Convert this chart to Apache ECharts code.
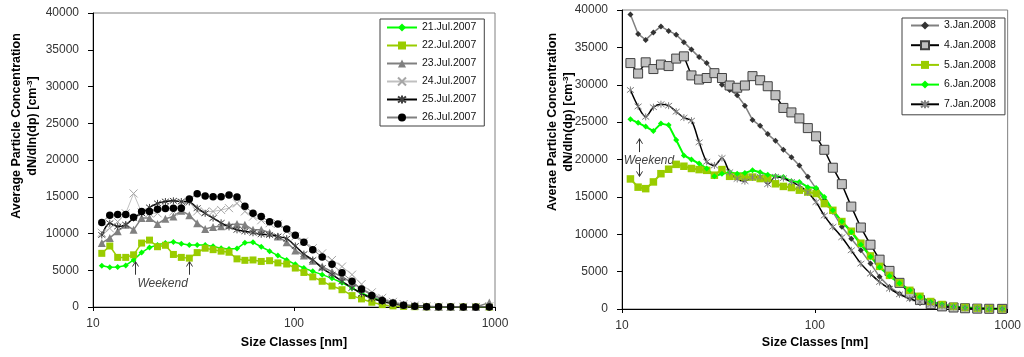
<!DOCTYPE html>
<html><head><meta charset="utf-8">
<script src="https://cdn.jsdelivr.net/npm/echarts@6/dist/echarts.min.js"></script>
<style>html,body{margin:0;padding:0;background:#fff}#c{width:1024px;height:357px}</style>
</head><body><div id="c"></div>
<script>
// Size classes [nm] (shared by both panels)
const sizes = [11.06, 12.12, 13.27, 14.55, 15.92, 17.45, 19.10, 20.94, 22.92, 25.12,
  27.50, 30.14, 32.99, 36.15, 39.58, 43.39, 47.50, 52.05, 56.98, 62.52,
  68.70, 75.61, 83.15, 91.98, 101.5, 112.0, 124.0, 138.1, 154.6, 173.3,
  194.4, 216.7, 243.9, 274.8, 310.8, 351.0, 399.0, 456.7, 524.1, 601.3,
  695.6, 802.7, 936.8];
const yTicksMax = 40000, yTickStep = 5000;
const xMin = 10, xMax = 1000;

// Left panel: July 2007
const julNames = ['21.Jul.2007', '22.Jul.2007', '23.Jul.2007', '24.Jul.2007', '25.Jul.2007', '26.Jul.2007'];
const jul21 = [5600, 5400, 5450, 5650, 6400, 7400, 8100, 8450, 8700, 8850,
  8600, 8450, 8450, 8450, 8250, 8000, 7900, 7950, 8750, 8800,
  8200, 7600, 7000, 6400, 5800, 5300, 4850, 4400, 3900, 3300,
  2600, 1900, 1300, 850, 500, 280, 150, 80, 40, 20, 10, 5, 0];
const jul22 = [7300, 8300, 6750, 6750, 7100, 8700, 9100, 8200, 8400, 7150,
  6750, 6650, 7400, 8000, 7800, 7600, 7450, 6550, 6350, 6400,
  6200, 6300, 6000, 5850, 5300, 4700, 4100, 3500, 2850, 2350,
  1550, 1100, 650, 320, 150, 80, 40, 20, 10, 5, 0, 0, 0];
const jul23 = [8700, 9400, 10300, 11200, 10500, 12100, 12100, 11300, 12000, 12300,
  13100, 12500, 11400, 10600, 10900, 11000, 11200, 11300, 11200, 10500,
  10500, 10100, 9600, 8800, 7700, 7000, 6300, 5500, 4800, 4100,
  3300, 2500, 1700, 1100, 650, 350, 200, 100, 50, 30, 20, 10, 600];
const jul24 = [10100, 10700, 11600, 12750, 15450, 12850, 12750, 12750, 13650, 13000,
  14100, 14300, 13000, 12950, 13000, 13200, 13450, 14100, 13000, 12300,
  11800, 11400, 11300, 10300, 9600, 8900, 8000, 7300, 6400, 5500,
  4400, 3100, 2000, 1250, 700, 400, 200, 100, 60, 40, 20, 10, 100];
const jul25 = [9800, 11400, 10950, 11200, 12100, 12750, 13550, 14100, 14350, 14450,
  14350, 14300, 13450, 12750, 12100, 11450, 10900, 10500, 10300, 10100,
  9900, 9800, 9600, 9300, 8300, 7200, 6400, 5300, 4400, 3500,
  2600, 1800, 1200, 750, 450, 250, 120, 60, 30, 15, 10, 5, 5];
const jul26 = [11500, 12500, 12600, 12600, 12200, 13000, 13000, 13300, 13400, 13450,
  13450, 14700, 15400, 15100, 15000, 15000, 15250, 14950, 13700, 12750,
  12300, 11600, 11300, 10600, 9750, 8800, 7800, 6800, 5800, 4650,
  3500, 2450, 1550, 900, 550, 250, 100, 50, 30, 20, 10, 10, 10];

// Right panel: January 2008
const janNames = ['3.Jan.2008', '4.Jan.2008', '5.Jan.2008', '6.Jan.2008', '7.Jan.2008'];
const jan3 = [39400, 36800, 36000, 37000, 37800, 37200, 36700, 35700, 34700, 33700,
  32900, 31500, 30000, 29300, 28600, 27200, 25300, 24500, 23400, 22500,
  21300, 20300, 19200, 17700, 16100, 14500, 13000, 11000, 9400, 7850,
  6100, 4300, 2950, 2050, 1400, 800, 500, 270, 150, 80, 40, 20, 10];
const jan4 = [32900, 31500, 33000, 32100, 32700, 32500, 33500, 33800, 31250, 30700,
  30900, 31550, 30900, 29900, 29600, 29900, 31150, 30600, 29800, 28600,
  26900, 26300, 25500, 24200, 23100, 21300, 18900, 16700, 13700, 10900,
  8600, 6600, 5100, 3500, 2100, 1200, 650, 350, 200, 100, 50, 30, 20];
const jan5 = [17400, 16300, 16100, 17000, 18100, 18700, 19350, 19100, 18800, 18650,
  18550, 17900, 18650, 17750, 17750, 17650, 17650, 17450, 17450, 16750,
  16400, 16250, 15900, 15650, 15450, 14100, 13200, 11700, 10400, 8800,
  7100, 5700, 4500, 3500, 2500, 1700, 1000, 600, 350, 200, 120, 60, 30];
const jan6 = [25400, 24900, 24400, 23800, 24800, 24600, 22600, 20550, 20000, 19450,
  18800, 17750, 18100, 18300, 18100, 18200, 18550, 18300, 17950, 17750,
  17650, 17100, 17000, 16300, 16200, 15000, 13200, 11700, 10300, 8600,
  7000, 5600, 4400, 3450, 2500, 1600, 950, 600, 350, 200, 100, 50, 30];
const jan7 = [29300, 27100, 25700, 27000, 27400, 27200, 26400, 25600, 25200, 22300,
  19700, 19200, 20200, 18300, 17400, 17100, 17600, 17700, 16700, 17700,
  17500, 17000, 16500, 15600, 14300, 12500, 11000, 9600, 7850, 6070,
  4730, 3610, 2720, 1960, 1390, 940, 630, 400, 270, 150, 80, 40, 20];

// Annotation anchors (data coordinates)
const leftArrowsX = [16.2, 29.9];
const leftArrowY = [4390, 6190];
const leftWeekend = [22.2, 3160];
const rightArrowX = 12.3;
const rightUpY = [20990, 22780];
const rightDownY = [19440, 17740];
const rightWeekend = [13.8, 19880];

const FONT = '"Liberation Sans", Arial, sans-serif';
const pts = arr => sizes.map((s, i) => [s, arr[i]]);
const XSYM = 'path://M0,0L10,10M10,0L0,10';
const AST = 'path://M0,0L10,10M10,0L0,10M5,-1.5L5,11.5';

function ser(name, idx, arr, o) {
  return {
    name, type: 'line', xAxisIndex: idx, yAxisIndex: idx, data: pts(arr),
    symbol: o.symbol, symbolSize: o.size, showSymbol: true, smooth: o.smooth || false,
    lineStyle: { color: o.line, width: o.lw || 1.5 },
    itemStyle: { color: o.fill, borderColor: o.border || o.fill, borderWidth: o.bw || 0 },
    emphasis: { disabled: true }, z: o.z || 2
  };
}

const chart = echarts.init(document.getElementById('c'));
function xAxis(gi) {
  return {
    type: 'log', logBase: 10, min: xMin, max: xMax, gridIndex: gi,
    axisLine: { lineStyle: { color: '#000', width: 1 } },
    axisTick: { show: true, inside: false, length: 4, lineStyle: { color: '#000' } },
    axisLabel: { color: '#333', fontSize: 12, fontFamily: FONT, margin: 11,
      formatter: v => String(Math.round(v)) },
    splitLine: { show: false }, minorTick: { show: false }
  };
}
function yAxis(gi) {
  return {
    type: 'value', min: 0, max: yTicksMax, interval: yTickStep, gridIndex: gi,
    axisLine: { show: true, lineStyle: { color: '#000', width: 1 } },
    axisTick: { show: true, inside: false, length: 5, lineStyle: { color: '#000' } },
    axisLabel: { color: '#333', fontSize: 12, fontFamily: FONT, margin: 14, formatter: v => String(v) },
    splitLine: { show: false }
  };
}
function legend(names, left, top, pad, gap, iw) {
  return {
    data: names, orient: 'vertical', left, top, padding: pad, itemGap: gap,
    itemWidth: iw, itemHeight: 10, selectedMode: false,
    borderColor: '#404040', borderWidth: 1, backgroundColor: '#fff',
    textStyle: { fontSize: 10.5, fontFamily: FONT, color: '#111' }
  };
}

const titleStyle = { fontFamily: FONT, fontWeight: 'bold', fontSize: 12.5, fill: '#000' };
function yTitle(x1, x2, cy, line1) {
  return [
    { type: 'text', x: x1, y: cy, rotation: Math.PI / 2,
      style: Object.assign({ text: line1, textAlign: 'center', textVerticalAlign: 'middle' }, titleStyle) },
    { type: 'text', x: x2, y: cy, rotation: Math.PI / 2,
      style: { text: '{a|dN/dln(dp) [cm}{s|-3}{a|]}', textAlign: 'center', textVerticalAlign: 'middle',
        rich: { a: { fontFamily: FONT, fontWeight: 'bold', fontSize: 12.5, color: '#000', lineHeight: 15 },
                s: { fontFamily: FONT, fontWeight: 'bold', fontSize: 8, color: '#000', verticalAlign: 'top' } } } }
  ];
}

chart.setOption({
  animation: false,
  backgroundColor: '#fff',
  grid: [
    { left: 93, right: 529, top: 13, bottom: 50, show: true, borderColor: '#808080', borderWidth: 1, backgroundColor: 'transparent' },
    { left: 622, right: 16, top: 10, bottom: 48, show: true, borderColor: '#808080', borderWidth: 1, backgroundColor: 'transparent' }
  ],
  xAxis: [xAxis(0), xAxis(1)],
  yAxis: [yAxis(0), yAxis(1)],
  legend: [
    legend(julNames, 380, 19, [3, 8, 3, 6], 7, 30),
    legend(janNames, 902, 18, [2, 9, 5, 8], 8.7, 28)
  ],
  series: [
    ser(julNames[0], 0, jul21, { symbol: 'diamond', size: 6, line: '#00FF00', fill: '#00FF00' }),
    ser(julNames[1], 0, jul22, { symbol: 'rect', size: 7, line: '#99CC00', fill: '#99CC00' }),
    ser(julNames[2], 0, jul23, { symbol: 'triangle', size: 8, line: '#808080', fill: '#808080' }),
    ser(julNames[3], 0, jul24, { symbol: XSYM, size: 8, line: '#C0C0C0', fill: 'transparent', border: '#A6A6A6', bw: 1, lw: 1 }),
    ser(julNames[4], 0, jul25, { symbol: AST, size: 7, line: '#000000', fill: 'transparent', border: '#404040', bw: 1, smooth: 0.3 }),
    ser(julNames[5], 0, jul26, { symbol: 'circle', size: 7.5, line: '#808080', fill: '#000000', lw: 1 }),
    ser(janNames[0], 1, jan3, { symbol: 'diamond', size: 6, line: '#808080', fill: '#333333' }),
    ser(janNames[1], 1, jan4, { symbol: 'rect', size: 9, line: '#000000', fill: '#C0C0C0', border: '#404040', bw: 1 }),
    ser(janNames[2], 1, jan5, { symbol: 'rect', size: 7.5, line: '#99CC00', fill: '#99CC00', lw: 2 }),
    ser(janNames[3], 1, jan6, { symbol: 'diamond', size: 6, line: '#00FF00', fill: '#00FF00', lw: 2 }),
    ser(janNames[4], 1, jan7, { symbol: AST, size: 7, line: '#000000', fill: 'transparent', border: '#808080', bw: 1, smooth: 0.3 })
  ]
});

// Titles and annotations
const g = [];
g.push(...yTitle(17, 33, 126, 'Average Particle Concentration'));
g.push(...yTitle(553, 569, 122, 'Averae Particle Concentration'));
g.push({ type: 'text', x: 294, y: 343, style: Object.assign({ text: 'Size Classes [nm]', textAlign: 'center', textVerticalAlign: 'middle' }, titleStyle) });
g.push({ type: 'text', x: 815, y: 343, style: Object.assign({ text: 'Size Classes [nm]', textAlign: 'center', textVerticalAlign: 'middle' }, titleStyle) });

function arrow(gi, xv, yFrom, yTo) {
  const a = chart.convertToPixel({ gridIndex: gi }, [xv, yFrom]);
  const b = chart.convertToPixel({ gridIndex: gi }, [xv, yTo]);
  const x = Math.round(a[0]) + 0.5;
  const dir = b[1] < a[1] ? 1 : -1;
  g.push({ type: 'line', shape: { x1: x, y1: a[1], x2: x, y2: b[1] }, style: { stroke: '#333', lineWidth: 1 } });
  g.push({ type: 'polyline', shape: { points: [[x - 3, b[1] + dir * 5], [x, b[1]], [x + 3, b[1] + dir * 5]] }, style: { stroke: '#333', lineWidth: 1, fill: null } });
}
leftArrowsX.forEach(xv => arrow(0, xv, leftArrowY[0], leftArrowY[1]));
arrow(1, rightArrowX, rightUpY[0], rightUpY[1]);
arrow(1, rightArrowX, rightDownY[0], rightDownY[1]);
function weekend(gi, p) {
  const q = chart.convertToPixel({ gridIndex: gi }, p);
  g.push({ type: 'text', x: q[0], y: q[1], style: { text: 'Weekend', textAlign: 'center', textVerticalAlign: 'middle',
    fontFamily: FONT, fontStyle: 'italic', fontSize: 12, fill: '#444' } });
}
weekend(0, leftWeekend);
weekend(1, rightWeekend);
chart.setOption({ graphic: g });
</script></body></html>
